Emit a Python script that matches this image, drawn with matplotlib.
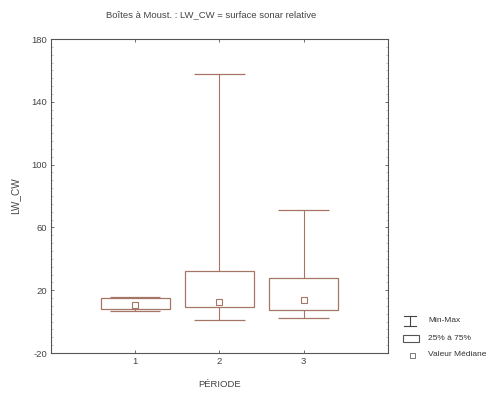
import matplotlib
matplotlib.use("Agg")
import matplotlib.pyplot as plt
from matplotlib.patches import Rectangle
from matplotlib.lines import Line2D
from matplotlib.ticker import MultipleLocator

plt.rcParams['font.family'] = ['Liberation Sans', 'DejaVu Sans']
plt.rcParams['axes.unicode_minus'] = False

periods = [1, 2, 3]
mins = [7.0, 1.0, 2.5]
q1 = [8.0, 9.5, 7.5]
medians = [10.5, 12.5, 14.0]
q3 = [15.0, 32.5, 27.5]
maxs = [15.5, 158.0, 71.0]
yticks = [-20, 20, 60, 100, 140, 180]

line_c = '#a57565'
axis_c = '#555555'
text_c = '#444444'

fig = plt.figure(figsize=(5.02, 3.98), dpi=100)
ax = fig.add_axes([0.1016, 0.113, 0.671, 0.789])

box_w = 0.82
cap_w = 0.60
for p, mn, a, md, b, mx in zip(periods, mins, q1, medians, q3, maxs):
    ax.add_patch(Rectangle((p - box_w / 2, a), box_w, b - a, fill=False,
                           edgecolor=line_c, lw=0.9))
    ax.vlines(p, b, mx, color=line_c, lw=0.8)
    ax.vlines(p, mn, a, color=line_c, lw=0.8)
    ax.hlines([mn, mx], p - cap_w / 2, p + cap_w / 2, color=line_c, lw=0.9)
    ax.plot(p, md, marker='s', ms=3.8, mfc='white', mec=line_c, mew=0.8)

ax.set_xlim(0, 4)
ax.set_ylim(-20, 180)
ax.set_xticks(periods)
ax.set_yticks(yticks)
ax.yaxis.set_minor_locator(MultipleLocator(5))
ax.tick_params(direction='in', length=2, width=0.6, colors=axis_c,
               labelcolor=text_c, labelsize=6.8, top=True, right=True, pad=3)
ax.tick_params(which='minor', direction='in', length=1.2, width=0.4,
               colors='#999999', right=True)
for s in ax.spines.values():
    s.set_color(axis_c)
    s.set_linewidth(0.8)

ax.set_xlabel('PÉRIODE', fontsize=6.8, color=text_c, labelpad=10)
ax.set_ylabel('LW_CW', fontsize=7.2, color=text_c, labelpad=8)
fig.text(0.42, 0.962, 'Boîtes à Moust. : LW_CW = surface sonar relative',
         ha='center', va='center', fontsize=6.8, color=text_c)

# legend (drawn in figure coordinates)
W, H = 502, 398
def fx(x): return x / W
def fy(y): return 1 - y / H

fig.add_artist(Line2D([fx(410), fx(410)], [fy(316), fy(326)], color='#444444', lw=0.8))
fig.add_artist(Line2D([fx(404), fx(416)], [fy(316), fy(316)], color='#444444', lw=0.8))
fig.add_artist(Line2D([fx(404), fx(416)], [fy(326), fy(326)], color='#444444', lw=0.8))
fig.text(fx(428), fy(321), 'Min-Max', fontsize=6, va='center', color='#333333')
fig.add_artist(Rectangle((fx(403), fy(342)), fx(16), 7 / H, fill=False,
                         edgecolor='#555555', lw=0.8))
fig.text(fx(428), fy(338), '25% à 75%', fontsize=6, va='center', color='#333333')
fig.add_artist(Rectangle((fx(410), fy(358)), fx(5), 5 / H, fill=False,
                         edgecolor='#777777', lw=0.7))
fig.text(fx(428), fy(355), 'Valeur Médiane', fontsize=6, va='center', color='#333333')

fig.savefig('out.png', dpi=100)
